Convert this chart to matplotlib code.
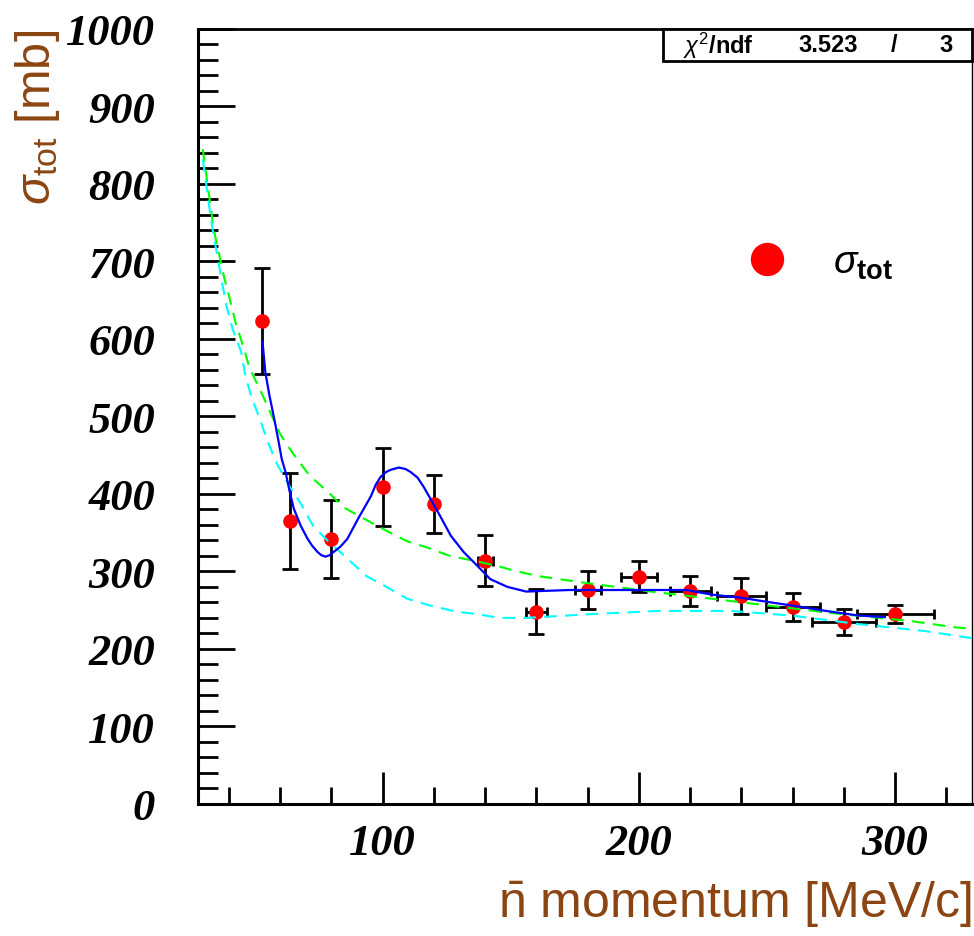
import matplotlib
matplotlib.use("Agg")
import matplotlib.pyplot as plt
from matplotlib.lines import Line2D
from matplotlib.patches import Rectangle
from matplotlib.ticker import MultipleLocator

plt.rcParams['mathtext.fontset'] = 'custom'
plt.rcParams['mathtext.rm'] = 'Liberation Sans'
plt.rcParams['mathtext.it'] = 'Liberation Sans:italic'
plt.rcParams['mathtext.bf'] = 'Liberation Sans:bold'

# measured points
mom = [53, 64, 80, 100, 120, 140, 160, 180, 200, 220, 240, 260, 280, 300]
sigma = [623, 365, 342, 409, 387, 314, 248, 276, 293, 275, 268, 254, 235, 245]
sigma_err = [68, 62, 50, 50, 38, 33, 29, 25, 20, 19, 23, 18, 17, 12]
mom_err = [0, 0, 0, 0, 0, 3, 4, 5, 7, 8, 9.5, 10.5, 12.5, 15]

# fit (blue)
fit_x = [53.1, 54.2, 55.8, 57.1, 58.2, 59.4, 60.6, 62.1, 63.7, 65.3, 68, 70.7, 72.5,
         74.6, 76, 77.7, 79.3, 80.8, 83.5, 86.2, 90.4, 95.4, 97.3, 99.2, 101.2, 103,
         106.3, 109, 111, 113.6, 116, 121.5, 126.6, 131.6, 137, 142, 148.7, 156,
         173, 218.5, 228.5, 240, 249.5, 259.6, 273, 285.8, 296]
fit_y = [596, 557, 527, 506, 488, 467, 445, 428, 403, 381, 359, 342, 333,
         325, 321, 319, 321, 325, 332, 342, 368, 397, 412, 422, 428, 431,
         434, 432, 428, 421, 409, 377, 346, 325, 307, 290, 280, 274,
         276, 276, 270, 266, 261, 256, 249, 243, 241]

# green dashed
green_x = [29.8, 31.5, 32.8, 34, 36, 38, 40.3, 42.5, 45.5, 48.2, 52.1, 56, 60, 65,
           71.6, 78.2, 84.6, 90.5, 101.7, 109.5, 117.2, 126.2, 135.2, 144.9, 150,
           160.5, 177.4, 204.7, 225.3, 250.3, 278.8, 306, 323, 330]
green_y = [845, 803, 772, 742, 712, 681, 652, 622, 591, 561, 535, 506, 477, 452,
           423, 404, 383, 372, 352, 339, 331, 320, 314, 307, 302,
           294, 286, 274, 266, 256, 245, 236, 228, 226]

# cyan dashed
cyan_x = [29.8, 31.5, 32.8, 34, 35.5, 37.4, 39, 41.4, 44.8, 46.5, 48.8, 52, 55.2,
          58.7, 63.8, 68.5, 72.8, 78.7, 86.4, 93.6, 101.5, 109.4, 118.4, 128.8,
          136.7, 145.6, 156, 181.6, 207.7, 236, 259.6, 285.8, 311.8, 327.5, 330]
cyan_y = [832, 790, 759, 733, 707, 671, 643, 613, 583, 551, 525, 497, 467,
          439, 409, 385, 359, 339, 316, 294, 280, 265, 256, 248,
          245, 240, 240, 245, 249, 249, 243, 232, 223, 215, 214]

brown = '#8B4513'

fig = plt.figure(figsize=(9.74, 9.37), dpi=100)
ax = fig.add_axes([0.2035, 0.141, 0.7945, 0.827])

ax.errorbar(mom, sigma, yerr=sigma_err, fmt='none', ecolor='black',
            elinewidth=2, capsize=5.8, capthick=2, zorder=2)
hx = [m for m, e in zip(mom, mom_err) if e > 0]
hy = [s for s, e in zip(sigma, mom_err) if e > 0]
he = [e for e in mom_err if e > 0]
ax.errorbar(hx, hy, xerr=he, fmt='none', ecolor='black',
            elinewidth=2, capsize=3.8, capthick=2, zorder=2)
ax.plot(mom, sigma, ls='none', marker='o', ms=9.5, color='red', zorder=3)

ax.plot(green_x, green_y, color='#00ff00', lw=1.5, dashes=(6, 4), zorder=4)
ax.plot(cyan_x, cyan_y, color='#00ffff', lw=1.5, dashes=(6, 4), zorder=4)
ax.plot(fit_x, fit_y, color='#0000ff', lw=1.6, zorder=5)

ax.set_xlim(28, 330)
ax.set_ylim(0, 1000)
ax.xaxis.set_major_locator(MultipleLocator(100))
ax.xaxis.set_minor_locator(MultipleLocator(20))
ax.yaxis.set_major_locator(MultipleLocator(100))
ax.yaxis.set_minor_locator(MultipleLocator(20))

ax.tick_params(axis='y', which='major', direction='in', length=26.6, width=2, pad=31)
ax.tick_params(axis='y', which='minor', direction='in', length=14.4, width=2)
ax.tick_params(axis='x', which='major', direction='in', length=23, width=2, pad=14)
ax.tick_params(axis='x', which='minor', direction='in', length=12, width=2)
for lab in ax.get_xticklabels() + ax.get_yticklabels():
    lab.set_fontfamily('Liberation Serif')
    lab.set_fontweight('bold')
    lab.set_fontstyle('italic')
    lab.set_fontsize(32)

ax.spines['left'].set_linewidth(2.2)
ax.spines['bottom'].set_linewidth(2.2)
ax.spines['top'].set_linewidth(2)
ax.spines['right'].set_linewidth(1)

ax.set_xlabel(r'$\bar{\mathrm{n}}$ momentum [MeV/c]', fontfamily='Liberation Sans',
              fontsize=36, color=brown, loc='right', labelpad=11)
ax.set_ylabel(r'$\sigma_{\mathrm{tot}}$ [mb]', fontfamily='Liberation Sans',
              fontsize=35, color=brown, loc='top', labelpad=3)

handle = Line2D([], [], ls='none', marker='o', ms=23, color='red')
ax.legend([handle], [r'$\sigma_{\mathbf{tot}}$'], loc='center left',
          bbox_to_anchor=(0.71, 0.70), frameon=False, fontsize=28,
          handlelength=1.0, handletextpad=1.2, borderpad=0, borderaxespad=0)

# chi2 box
ax.add_patch(Rectangle((0.601, 0.959), 0.399, 0.041, transform=ax.transAxes,
                       facecolor='white', edgecolor='black', lw=2,
                       clip_on=False, zorder=10))
kw = dict(transform=ax.transAxes, fontfamily='Liberation Sans', fontweight='bold',
          fontsize=17, va='center', zorder=11)
ax.text(0.627, 0.980, r'$\chi^{2}$/ndf', ha='left', **kw)
ax.text(0.853, 0.980, '3.523', ha='right', **kw)
ax.text(0.899, 0.980, '/', ha='center', **kw)
ax.text(0.975, 0.980, '3', ha='right', **kw)

fig.savefig('out.png', dpi=100)
